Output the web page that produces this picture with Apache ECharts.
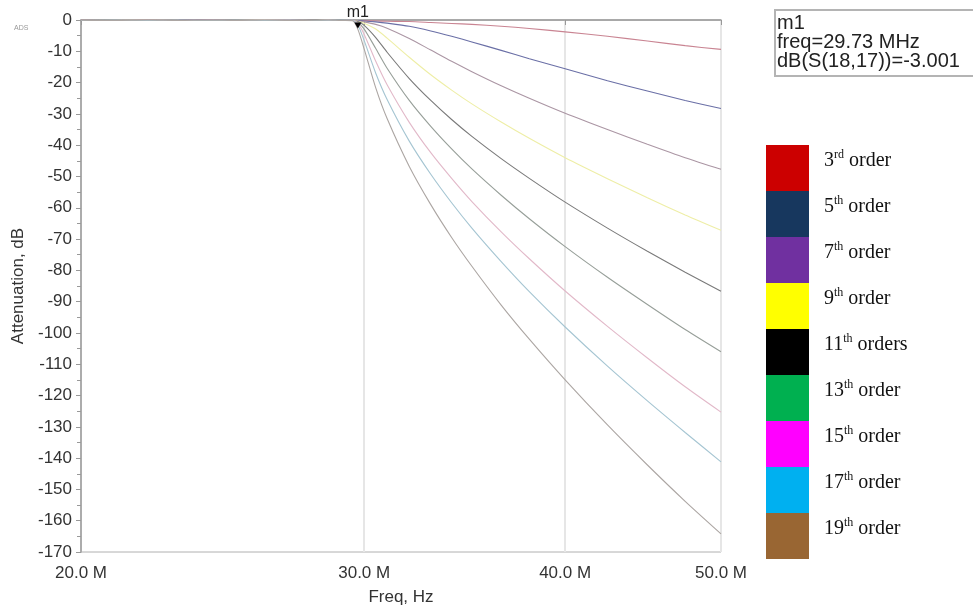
<!DOCTYPE html>
<html><head><meta charset="utf-8">
<script src="https://cdn.jsdelivr.net/npm/echarts@6/dist/echarts.min.js"></script>
<style>html,body{margin:0;padding:0;background:#fff}#c{width:973px;height:611px}</style>
</head><body><div id="c"></div>
<script>
// Frequencies in Hz
const freqHz = [20e6,21e6,22e6,23e6,24e6,25e6,26e6,27e6,28e6,28.5e6,29e6,29.5e6,
  29.73e6,30e6,30.5e6,31e6,32e6,33e6,34e6,35e6,36.5e6,38e6,40e6,42.5e6,45e6,47.5e6,50e6];

const order3  = [-0.10,-0.06,-0.02,0,-0.01,-0.03,-0.06,-0.09,-0.12,-0.14,-0.16,-0.17,
  -0.2,-0.2,-0.3,-0.4,-0.5,-0.8,-1.1,-1.4,-2.0,-2.7,-3.8,-5.2,-6.7,-8.2,-9.4];
const order5  = [-0.15,-0.10,-0.03,0,-0.05,-0.12,-0.17,-0.13,-0.05,-0.02,-0.05,-0.14,
  -0.2,-0.3,-0.6,-1.0,-2.0,-3.5,-5.2,-7.0,-9.7,-12.4,-15.6,-19.4,-22.7,-25.7,-28.3];
const order7  = [-0.02,-0.12,-0.17,-0.08,0,-0.08,-0.16,-0.12,-0.02,-0.03,-0.12,-0.17,
  -0.3,-0.6,-1.4,-2.6,-5.9,-9.6,-13.2,-16.5,-21.0,-25.0,-29.8,-35.0,-39.7,-44.0,-47.7];
const order9  = [-0.17,-0.08,0,-0.10,-0.17,-0.06,-0.02,-0.15,-0.10,0,-0.08,-0.17,
  -0.4,-1.0,-2.9,-5.8,-11.9,-17.5,-22.4,-26.8,-32.6,-37.8,-44.0,-50.7,-56.8,-62.3,-67.2];
const order11 = [-0.05,-0.17,-0.02,-0.14,-0.08,-0.01,-0.16,-0.06,-0.03,-0.12,-0.02,-0.16,
  -0.5,-1.7,-5.6,-10.3,-18.7,-25.7,-31.8,-37.2,-44.3,-50.6,-58.2,-66.5,-73.9,-80.6,-86.7];
const order13 = [-0.12,0,-0.16,-0.03,-0.15,-0.02,-0.10,-0.17,0,-0.16,-0.05,-0.15,
  -0.8,-2.9,-9.1,-15.4,-25.7,-34.0,-41.2,-47.6,-56.0,-63.5,-72.4,-82.2,-90.9,-98.9,-106.0];
const order15 = [-0.01,-0.16,-0.04,-0.17,-0.02,-0.15,-0.04,-0.02,-0.17,-0.05,-0.14,-0.12,
  -1.1,-4.6,-13.2,-20.7,-32.7,-42.4,-50.6,-58.0,-67.7,-76.3,-86.6,-97.9,-108.0,-117.2,-125.3];
const order17 = [-0.16,-0.02,-0.17,-0.01,-0.16,-0.05,-0.12,-0.01,-0.16,-0.08,-0.03,-0.10,
  -1.6,-6.6,-17.0,-25.4,-38.7,-49.3,-58.4,-66.5,-77.2,-86.8,-98.1,-110.6,-121.7,-131.8,-141.2];
const order19 = [-0.03,-0.17,-0.01,-0.16,-0.03,-0.17,-0.02,-0.14,-0.08,-0.01,-0.16,-0.2,
  -3.0,-9.3,-21.7,-31.5,-46.8,-59.0,-69.5,-78.7,-91.1,-102.0,-115.0,-129.4,-142.2,-153.8,-164.2];

const seriesNames = ['3rd order','5th order','7th order','9th order','11th orders',
  '13th order','15th order','17th order','19th order'];
const seriesValues = [order3,order5,order7,order9,order11,order13,order15,order17,order19];

const xTickValues = [20e6,30e6,40e6,50e6];
const xTickLabels = ['20.0 M','30.0 M','40.0 M','50.0 M'];

const markerFreq = 29.73e6;
const markerValue = -3.001;
const markerText = 'm1\nfreq=29.73 MHz\ndB(S(18,17))=-3.001';

const lineColors = ['#c98492','#6a6fa6','#ab96a4','#eeeea6','#7a7a7a','#979f99','#e2b9c9','#a5c5d2','#aca6a3'];
const legendColors = ['#cc0000','#17375e','#7030a0','#ffff00','#000000','#00b050','#ff00ff','#00b0f0','#996633'];

const chart = echarts.init(document.getElementById('c'), null, {renderer:'canvas'});

const series = seriesNames.map((name, k) => {
  const s = {
    name: name,
    type: 'line',
    symbol: 'none',
    smooth: 0.25,
    silent: true,
    lineStyle: {color: lineColors[k], width: 1.1},
    itemStyle: {color: lineColors[k]},
    data: freqHz.map((f, i) => [f, seriesValues[k][i]])
  };
  if (k === seriesNames.length - 1) {
    s.markPoint = {
      silent: true,
      data: [{coord: [markerFreq, markerValue]}],
      symbol: 'triangle',
      symbolRotate: 180,
      symbolSize: [7, 6],
      symbolOffset: [0, -4],
      itemStyle: {color: '#000'},
      label: {show: true, position: 'top', distance: 2, formatter: 'm1',
        color: '#222', fontSize: 16, fontFamily: 'Liberation Sans'}
    };
  }
  return s;
});

function nearestLabel(v) {
  let best = 0;
  for (let i = 1; i < xTickValues.length; i++) {
    if (Math.abs(xTickValues[i] - v) < Math.abs(xTickValues[best] - v)) best = i;
  }
  return xTickLabels[best];
}

chart.setOption({
  animation: false,
  backgroundColor: '#fff',
  title: {
    text: markerText,
    left: 775, top: 10,
    padding: [4, 30, 5, 2],
    borderColor: '#b4b4b4', borderWidth: 2,
    textStyle: {fontSize: 20, fontWeight: 'normal', fontFamily: 'Liberation Sans', color: '#222', lineHeight: 19}
  },
  graphic: [{
    type: 'text', left: 14, top: 25, silent: true,
    style: {text: 'ADS', fontSize: 7, fill: '#999', fontFamily: 'Liberation Sans'}
  }],
  legend: {
    orient: 'vertical',
    left: 766, top: 145,
    padding: 0,
    itemWidth: 43, itemHeight: 46, itemGap: 0,
    icon: 'rect',
    selectedMode: false,
    itemStyle: {borderWidth: 0},
    data: seriesNames.map((n, k) => ({name: n, itemStyle: {color: legendColors[k], borderWidth: 0}})),
    formatter: function (name) {
      const m = name.match(/^(\d+)([a-z]{2})(.*)$/);
      return '{n|' + m[1] + '}{s|' + m[2] + '}{n|' + m[3] + '}';
    },
    textStyle: {
      padding: [0, 0, 16, 10],
      rich: {
        n: {fontSize: 20, fontFamily: 'Liberation Serif', color: '#111', lineHeight: 22, verticalAlign: 'bottom'},
        s: {fontSize: 12, fontFamily: 'Liberation Serif', color: '#111', lineHeight: 14, verticalAlign: 'top'}
      }
    }
  },
  grid: {left: 81, right: 252, top: 20, bottom: 58, show: true, borderColor: '#b0b0b0', borderWidth: 1},
  xAxis: {
    type: 'log',
    min: 20e6, max: 50e6,
    name: 'Freq, Hz', nameLocation: 'middle', nameGap: 37,
    nameTextStyle: {fontSize: 17, color: '#333', fontFamily: 'Liberation Sans'},
    axisLine: {show: true, lineStyle: {color: '#999', width: 1.5}},
    axisTick: {show: true, length: 5, customValues: xTickValues, lineStyle: {color: '#999'}},
    minorTick: {show: false},
    axisLabel: {customValues: xTickValues, formatter: nearestLabel, fontSize: 17, color: '#333',
      fontFamily: 'Liberation Sans', margin: 13},
    splitLine: {show: true, lineStyle: {color: '#e6e6e6', width: 2}},
    minorSplitLine: {show: false}
  },
  yAxis: {
    type: 'value',
    min: -170, max: 0, interval: 10,
    name: 'Attenuation, dB', nameLocation: 'middle', nameGap: 53,
    nameTextStyle: {fontSize: 17, color: '#333', fontFamily: 'Liberation Sans'},
    axisLine: {show: true, lineStyle: {color: '#999', width: 1.5}},
    axisTick: {show: true, length: 5, lineStyle: {color: '#999'}},
    minorTick: {show: true, splitNumber: 2, length: 4, lineStyle: {color: '#999'}},
    axisLabel: {fontSize: 17, color: '#333', fontFamily: 'Liberation Sans', margin: 9},
    splitLine: {show: false}
  },
  series: series
});
</script>
</body></html>
